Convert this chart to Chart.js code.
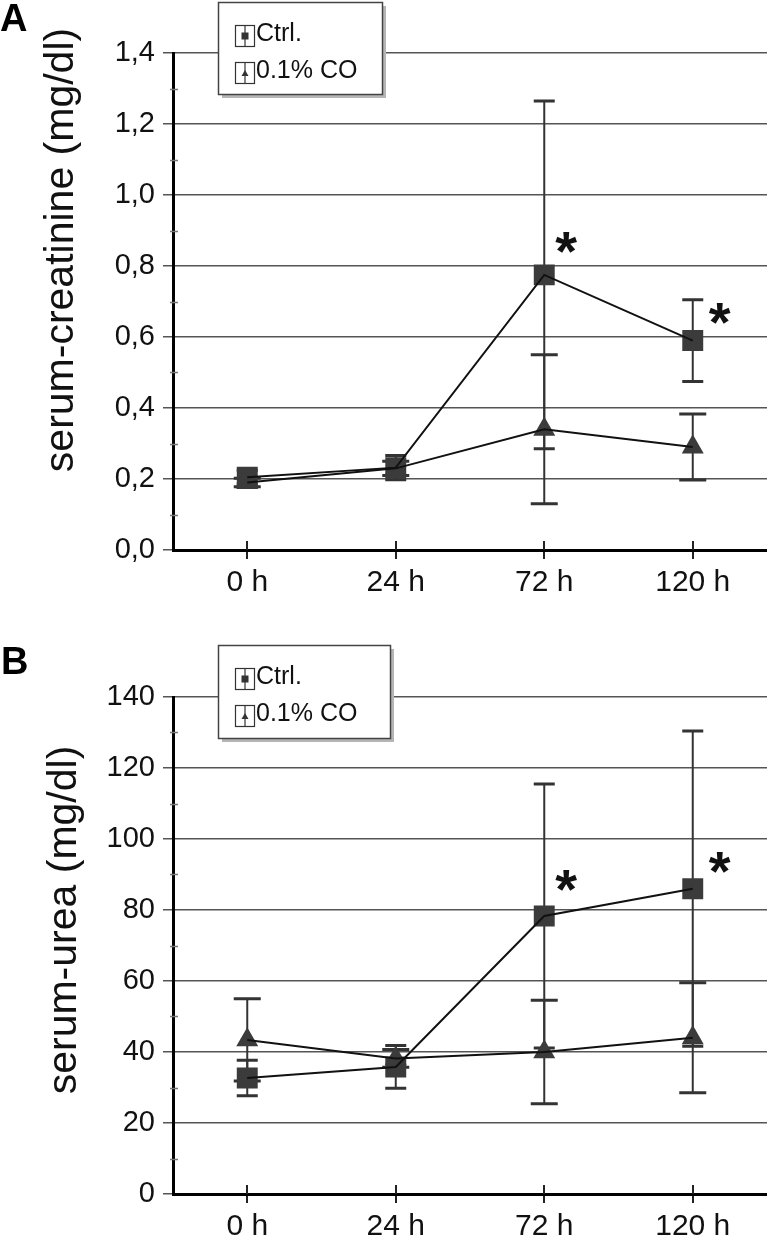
<!DOCTYPE html>
<html>
<head>
<meta charset="utf-8">
<script src="https://cdn.jsdelivr.net/npm/chart.js@4.4.1/dist/chart.umd.min.js"></script>
<style>
  html, body { margin: 0; padding: 0; background: #fff; overflow: hidden; }
  .panel { position: relative; width: 767px; height: 620px; }
  .panel canvas { display: block; }
</style>
</head>
<body>
<div class="panel"><canvas id="chart-a" width="767" height="620"></canvas></div>
<div class="panel"><canvas id="chart-b" width="767" height="620"></canvas></div>
<script>
// categories + legend names
var timeLabels = ['0 h', '24 h', '72 h', '120 h'];
var seriesNames = ['Ctrl.', '0.1% CO'];

// A: serum creatinine (mg/dl), mean and SD
var creaCtrl = [0.205, 0.232, 0.775, 0.59];
var creaCtrlSd = [0.02, 0.034, 0.49, 0.115];
var creaCO = [0.19, 0.23, 0.34, 0.29];
var creaCOSd = [0.012, 0.02, 0.21, 0.093];
var creaSig = ['', '', '*', '*'];
var creaTicks = ['0,0', '0,2', '0,4', '0,6', '0,8', '1,0', '1,2', '1,4'];

// B: serum urea (mg/dl), mean and SD
var ureaCtrl = [32.7, 35.8, 78.3, 86];
var ureaCtrlSd = [5, 6, 37.2, 44.4];
var ureaCO = [43.4, 38.2, 40, 44];
var ureaCOSd = [11.6, 2.5, 14.6, 15.5];
var ureaSig = ['', '', '*', '*'];
var ureaTicks = ['0', '20', '40', '60', '80', '100', '120', '140'];

var FONT = 'Liberation Sans, Arial, sans-serif';
var INK = '#111';
var MARK = '#3b3b3b';

Chart.defaults.font.family = FONT;
Chart.defaults.color = INK;

// error bars, minor ticks, legend box, asterisks, axis title, panel letter
var extrasPlugin = {
    id: 'extras',
    beforeDatasetsDraw: function(chart, args, o) {
        var ctx = chart.ctx;
        var ys = chart.scales.y;
        o.errors.forEach(function(err, d) {
            var meta = chart.getDatasetMeta(d);
            var means = chart.data.datasets[d].data;
            var hw = o.capHalf[d];
            ctx.save();
            ctx.strokeStyle = '#333';
            meta.data.forEach(function(pt, i) {
                var top = ys.getPixelForValue(means[i] + err[i]);
                var bot = ys.getPixelForValue(means[i] - err[i]);
                ctx.lineWidth = 2;
                ctx.beginPath();
                ctx.moveTo(pt.x, top);
                ctx.lineTo(pt.x, bot);
                ctx.stroke();
                ctx.lineWidth = 3;
                ctx.beginPath();
                ctx.moveTo(pt.x - hw, top);
                ctx.lineTo(pt.x + hw, top);
                ctx.moveTo(pt.x - hw, bot);
                ctx.lineTo(pt.x + hw, bot);
                ctx.stroke();
            });
            ctx.restore();
        });
    },
    afterDraw: function(chart, args, o) {
        var ctx = chart.ctx;
        var xs = chart.scales.x;
        var ys = chart.scales.y;
        var area = chart.chartArea;
        ctx.save();

        // minor y ticks between the labelled ones
        ctx.strokeStyle = '#777';
        ctx.lineWidth = 1.5;
        for (var i = 0; i < ys.ticks.length - 1; i++) {
            var mid = (ys.ticks[i].value + ys.ticks[i + 1].value) / 2;
            var py = Math.round(ys.getPixelForValue(mid)) + 0.5;
            ctx.beginPath();
            ctx.moveTo(area.left - 3, py);
            ctx.lineTo(area.left + 5, py);
            ctx.stroke();
        }

        // x ticks also reach up into the plot
        ctx.strokeStyle = '#222';
        ctx.lineWidth = 2;
        xs.ticks.forEach(function(t, i) {
            var px = Math.round(xs.getPixelForTick(i));
            ctx.beginPath();
            ctx.moveTo(px, area.bottom - 9);
            ctx.lineTo(px, area.bottom);
            ctx.stroke();
        });

        // significance marks next to the Ctrl points
        var ctrlMeta = chart.getDatasetMeta(0);
        ctx.fillStyle = INK;
        ctx.font = 'bold 56px ' + FONT;
        ctx.textAlign = 'center';
        ctx.textBaseline = 'alphabetic';
        o.sig.forEach(function(s, i) {
            if (!s) return;
            var pt = ctrlMeta.data[i];
            var m = ctx.measureText(s);
            var cx = pt.x + o.sigDx[i];
            var cy = pt.y + o.sigDy[i];
            var base = cy - (m.actualBoundingBoxDescent - m.actualBoundingBoxAscent) / 2;
            ctx.fillText(s, cx, base);
        });

        // legend box with shadow
        var b = o.legend;
        ctx.fillStyle = '#b5b5b5';
        ctx.fillRect(b.x + 4, b.y + 4, b.w, b.h);
        ctx.fillStyle = '#fff';
        ctx.fillRect(b.x, b.y, b.w, b.h);
        ctx.strokeStyle = '#444';
        ctx.lineWidth = 1.5;
        ctx.strokeRect(b.x + 0.5, b.y + 0.5, b.w, b.h);
        ctx.font = '25px ' + FONT;
        ctx.textAlign = 'left';
        seriesNames.forEach(function(name, k) {
            var ix = b.x + 17, iy = b.y + 23 + k * 37;
            ctx.strokeStyle = '#333';
            ctx.lineWidth = 1.2;
            ctx.strokeRect(ix + 0.5, iy + 0.5, 19, 21);
            ctx.beginPath();
            ctx.moveTo(ix + 10, iy + 1);
            ctx.lineTo(ix + 10, iy + 21);
            ctx.stroke();
            ctx.fillStyle = '#333';
            if (k === 0) {
                ctx.fillRect(ix + 6.5, iy + 7.5, 7, 7);
            } else {
                ctx.beginPath();
                ctx.moveTo(ix + 10, iy + 8);
                ctx.lineTo(ix + 13.5, iy + 14);
                ctx.lineTo(ix + 6.5, iy + 14);
                ctx.closePath();
                ctx.fill();
            }
            ctx.fillStyle = INK;
            ctx.fillText(name, b.x + 38, b.y + 39 + k * 37);
        });

        // rotated y-axis title
        ctx.save();
        ctx.translate(o.titleX, o.titleY);
        ctx.rotate(-Math.PI / 2);
        ctx.font = '41px ' + FONT;
        ctx.textAlign = 'center';
        ctx.textBaseline = 'alphabetic';
        ctx.fillStyle = INK;
        ctx.fillText(o.title, 0, 0);
        ctx.restore();

        // panel letter
        ctx.font = 'bold 38px ' + FONT;
        ctx.textAlign = 'left';
        ctx.fillStyle = '#000';
        ctx.fillText(o.letter, o.letterX, o.letterY);

        ctx.restore();
    }
};

function renderPanel(canvasId, cfg) {
    var ctx = document.getElementById(canvasId).getContext('2d');

    return new Chart(ctx, {
        type: 'line',
        data: {
            labels: timeLabels,
            datasets: [{
                label: seriesNames[0],
                data: cfg.ctrl,
                showLine: false,
                pointStyle: 'rect',
                pointRadius: 14.8,
                pointBackgroundColor: MARK,
                pointBorderColor: MARK,
                pointBorderWidth: 0,
                order: 2
            }, {
                label: seriesNames[1],
                data: cfg.co,
                showLine: false,
                pointStyle: 'triangle',
                pointRadius: 12.7,
                pointBackgroundColor: MARK,
                pointBorderColor: MARK,
                pointBorderWidth: 0,
                order: 2
            }, {
                label: seriesNames[0] + ' line',
                data: cfg.ctrl,
                borderColor: INK,
                borderWidth: 2,
                pointRadius: 0,
                tension: 0,
                fill: false,
                order: 1
            }, {
                label: seriesNames[1] + ' line',
                data: cfg.co,
                borderColor: INK,
                borderWidth: 2,
                pointRadius: 0,
                tension: 0,
                fill: false,
                order: 1
            }]
        },
        options: {
            responsive: false,
            animation: false,
            events: [],
            layout: {
                autoPadding: false,
                padding: { top: cfg.top, right: 0, bottom: 0, left: 0 }
            },
            plugins: {
                legend: { display: false },
                tooltip: { enabled: false },
                extras: {
                    errors: [cfg.ctrlSd, cfg.coSd],
                    capHalf: [10.5, 13.5],
                    sig: cfg.sig,
                    sigDx: cfg.sigDx,
                    sigDy: cfg.sigDy,
                    legend: cfg.legend,
                    title: cfg.title,
                    titleX: cfg.titleX,
                    titleY: cfg.titleY,
                    letter: cfg.letter,
                    letterX: cfg.letterX,
                    letterY: cfg.letterY
                }
            },
            scales: {
                x: {
                    offset: true,
                    ticks: {
                        padding: 6,
                        color: INK,
                        font: { size: 30 }
                    },
                    grid: {
                        drawOnChartArea: false,
                        tickLength: 9,
                        color: '#222',
                        lineWidth: 2
                    },
                    border: { color: '#000', width: 3 },
                    afterFit: function(s) {
                        s.height = cfg.xHeight;
                        s.paddingLeft = 0;
                        s.paddingRight = 0;
                    }
                },
                y: {
                    min: 0,
                    max: cfg.max,
                    ticks: {
                        stepSize: cfg.step,
                        autoSkip: false,
                        padding: 8,
                        color: INK,
                        font: { size: 29 },
                        callback: function(v, i) { return cfg.ticks[i]; }
                    },
                    grid: {
                        color: '#555',
                        lineWidth: 1.5,
                        tickLength: 10,
                        tickColor: '#555'
                    },
                    border: { display: true, color: '#000', width: 3 },
                    afterFit: function(s) {
                        s.width = 173;
                        s.paddingTop = 0;
                        s.paddingBottom = 0;
                    }
                }
            }
        },
        plugins: [extrasPlugin]
    });
}

renderPanel('chart-a', {
    ctrl: creaCtrl, ctrlSd: creaCtrlSd, co: creaCO, coSd: creaCOSd,
    sig: creaSig, sigDx: [0, 0, 22, 27], sigDy: [0, 0, -32, -27],
    ticks: creaTicks, max: 1.4, step: 0.2,
    top: 53, xHeight: 70,
    legend: { x: 218, y: 2, w: 164, h: 92 },
    title: 'serum-creatinine (mg/dl)', titleX: 73, titleY: 250,
    letter: 'A', letterX: 0, letterY: 31
});

renderPanel('chart-b', {
    ctrl: ureaCtrl, ctrlSd: ureaCtrlSd, co: ureaCO, coSd: ureaCOSd,
    sig: ureaSig, sigDx: [0, 0, 22, 27], sigDy: [0, 0, -36, -26],
    ticks: ureaTicks, max: 140, step: 20,
    top: 77, xHeight: 46,
    legend: { x: 218, y: 25, w: 172, h: 93 },
    title: 'serum-urea (mg/dl)', titleX: 76, titleY: 300,
    letter: 'B', letterX: 1, letterY: 54
});
</script>
</body>
</html>
